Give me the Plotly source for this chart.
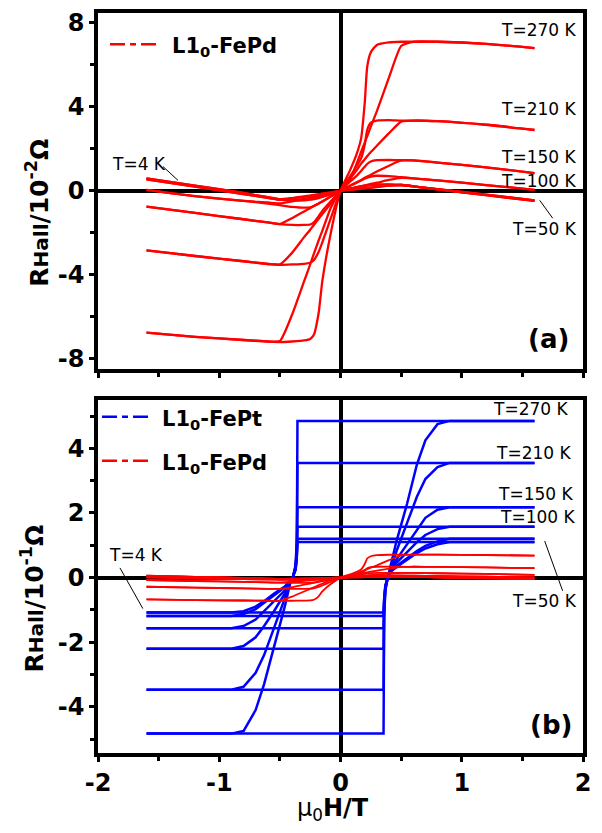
import plotly.graph_objects as go

# ---------------- data ----------------
# L1_0-FePd (panel a in 10^-2 Ohm; panel b shows the same curves in 10^-1 Ohm)
pd_field = [-1.6, -1.2, -0.8, -0.6, -0.5, -0.4, -0.3, -0.25, -0.22, -0.18, -0.15, -0.08, 0.0,
            0.08, 0.13, 0.17, 0.2, 0.22, 0.25, 0.3, 0.4, 0.5, 0.6, 0.8, 1.2, 1.6]

pd_270_ramp = [-6.75, -6.95, -7.1, -7.17, -7.15, -5.9, -4.3, -3.5, -3.0, -2.35, -1.9, -0.8, 0.0,
               0.55, 1.25, 1.86, 2.3, 2.6, 3.06, 3.8, 5.4, 6.9, 7.1, 7.1, 7.0, 6.8]
pd_270_s = [-6.75, -6.95, -7.1, -7.17, -7.2, -7.17, -7.12, -7.05, -6.85, -5.8, -4.3, -2.0, 0.0,
            1.0, 1.7, 2.5, 4.2, 5.9, 6.6, 6.95, 7.07, 7.1, 7.1, 7.1, 7.0, 6.8]
pd_210_ramp = [-2.83, -3.1, -3.35, -3.48, -3.5, -2.95, -2.2, -1.85, -1.62, -1.33, -1.1, -0.6, 0.0,
               0.6, 0.95, 1.3, 1.5, 1.65, 1.85, 2.15, 2.75, 3.3, 3.35, 3.32, 3.15, 2.9]
pd_210_s = [-2.83, -3.1, -3.35, -3.48, -3.52, -3.5, -3.47, -3.42, -3.3, -2.9, -2.45, -1.3, 0.0,
            0.7, 1.15, 1.55, 2.2, 2.9, 3.25, 3.35, 3.37, 3.35, 3.35, 3.32, 3.15, 2.9]
pd_150_ramp = [-0.75, -1.05, -1.35, -1.5, -1.58, -1.3, -0.98, -0.82, -0.72, -0.6, -0.5, -0.27, 0.0,
               0.25, 0.4, 0.52, 0.62, 0.68, 0.77, 0.92, 1.2, 1.45, 1.45, 1.35, 1.12, 0.85]
pd_150_s = [-0.75, -1.05, -1.35, -1.5, -1.58, -1.62, -1.62, -1.6, -1.5, -1.2, -0.95, -0.5, 0.0,
            0.45, 0.7, 0.95, 1.15, 1.28, 1.4, 1.46, 1.47, 1.46, 1.45, 1.35, 1.12, 0.85]
pd_100_ramp = [0.05, -0.25, -0.48, -0.55, -0.6, -0.5, -0.38, -0.32, -0.28, -0.23, -0.19, -0.1, 0.0,
               0.1, 0.17, 0.22, 0.26, 0.29, 0.33, 0.39, 0.52, 0.62, 0.6, 0.5, 0.28, 0.05]
pd_100_s = [0.05, -0.25, -0.48, -0.6, -0.68, -0.76, -0.8, -0.78, -0.72, -0.6, -0.5, -0.27, 0.0,
            0.25, 0.38, 0.5, 0.58, 0.63, 0.68, 0.72, 0.7, 0.65, 0.6, 0.5, 0.28, 0.05]
pd_50_ramp = [0.55, 0.2, -0.15, -0.33, -0.42, -0.36, -0.28, -0.24, -0.21, -0.17, -0.14, -0.08, 0.0,
              0.05, 0.08, 0.11, 0.13, 0.14, 0.16, 0.19, 0.25, 0.28, 0.22, 0.07, -0.2, -0.48]
pd_50_s = [0.55, 0.2, -0.15, -0.33, -0.42, -0.46, -0.45, -0.42, -0.39, -0.34, -0.29, -0.16, 0.0,
           0.12, 0.18, 0.22, 0.25, 0.27, 0.29, 0.3, 0.3, 0.28, 0.22, 0.07, -0.2, -0.48]
pd_4_ramp = [0.6, 0.25, -0.1, -0.3, -0.4, -0.34, -0.26, -0.22, -0.19, -0.16, -0.13, -0.07, 0.0,
             0.05, 0.08, 0.1, 0.12, 0.13, 0.15, 0.18, 0.25, 0.28, 0.22, 0.08, -0.18, -0.45]
pd_4_s = [0.6, 0.25, -0.1, -0.3, -0.4, -0.42, -0.4, -0.38, -0.35, -0.3, -0.26, -0.14, 0.0,
          0.11, 0.16, 0.2, 0.23, 0.25, 0.27, 0.3, 0.31, 0.28, 0.22, 0.08, -0.18, -0.45]

# L1_0-FePt (panel b, 10^-1 Ohm): descending and ascending field sweeps
pt_field_down = [1.6, 0.0, -0.355, -0.36, -0.37, -0.39, -0.41, -0.46, -0.55, -0.63, -0.7, -0.8, -0.9, -1.6]
pt_field_up = [-1.6, 0.0, 0.355, 0.36, 0.37, 0.39, 0.42, 0.46, 0.55, 0.63, 0.7, 0.8, 0.9, 1.6]

pt_270_down = [4.85, 4.85, 4.85, 1.2, 0.4, 0.05, -0.1, -0.9, -2.15, -3.3, -4.1, -4.75, -4.83, -4.83]
pt_270_up = [-4.83, -4.83, -4.83, -1.2, -0.4, 0.0, 0.45, 1.1, 2.3, 3.5, 4.25, 4.75, 4.85, 4.85]
pt_210_down = [3.55, 3.55, 3.55, 1.0, 0.35, 0.05, -0.1, -0.65, -1.6, -2.4, -2.95, -3.38, -3.47, -3.47]
pt_210_up = [-3.47, -3.47, -3.47, -1.0, -0.35, 0.0, 0.35, 0.8, 1.7, 2.5, 3.05, 3.42, 3.55, 3.55]
pt_150_down = [2.18, 2.18, 2.18, 0.9, 0.3, 0.05, -0.1, -0.5, -1.05, -1.5, -1.85, -2.12, -2.2, -2.2]
pt_150_up = [-2.2, -2.2, -2.2, -0.9, -0.3, 0.0, 0.3, 0.55, 1.05, 1.5, 1.85, 2.1, 2.18, 2.18]
pt_100_down = [1.57, 1.57, 1.57, 0.8, 0.3, 0.05, -0.1, -0.4, -0.75, -1.05, -1.3, -1.5, -1.57, -1.57]
pt_100_up = [-1.57, -1.57, -1.57, -0.8, -0.3, 0.0, 0.25, 0.45, 0.8, 1.1, 1.32, 1.5, 1.57, 1.57]
pt_50_down = [1.2, 1.2, 1.2, 0.7, 0.25, 0.05, -0.08, -0.3, -0.55, -0.8, -0.98, -1.13, -1.19, -1.19]
pt_50_up = [-1.19, -1.19, -1.19, -0.7, -0.25, 0.0, 0.2, 0.35, 0.6, 0.82, 0.98, 1.12, 1.2, 1.2]
pt_4_down = [1.1, 1.1, 1.1, 0.65, 0.25, 0.05, -0.08, -0.28, -0.5, -0.73, -0.9, -1.04, -1.08, -1.08]
pt_4_up = [-1.08, -1.08, -1.08, -0.65, -0.25, 0.0, 0.2, 0.32, 0.55, 0.76, 0.9, 1.03, 1.1, 1.1]

pd_curves = [pd_270_ramp, pd_270_s, pd_210_ramp, pd_210_s, pd_150_ramp, pd_150_s,
             pd_100_ramp, pd_100_s, pd_50_ramp, pd_50_s, pd_4_ramp, pd_4_s]
pt_down_curves = [pt_270_down, pt_210_down, pt_150_down, pt_100_down, pt_50_down, pt_4_down]
pt_up_curves = [pt_270_up, pt_210_up, pt_150_up, pt_100_up, pt_50_up, pt_4_up]

x_ticks = [-2, -1, 0, 1, 2]
x_ticktext = ["-2", "-1", "0", "1", "2"]
ya_ticks = [-8, -4, 0, 4, 8]
ya_ticktext = ["-8", "-4", "0", "4", "8"]
yb_ticks = [-4, -2, 0, 2, 4]
yb_ticktext = ["-4", "-2", "0", "2", "4"]

RED = "#ff0000"
BLUE = "#0000ff"
FONT = "DejaVu Sans, Liberation Sans, Arial, sans-serif"

fig = go.Figure()

# panel (a): FePd
for ys in pd_curves:
    fig.add_trace(go.Scatter(x=pd_field, y=ys, mode="lines", xaxis="x", yaxis="y",
                             line=dict(color=RED, width=2.3, shape="spline", smoothing=0.5),
                             showlegend=False, hoverinfo="skip"))

# panel (b): FePt then FePd (scaled to 10^-1 Ohm)
for yd, yu in zip(pt_down_curves, pt_up_curves):
    fig.add_trace(go.Scatter(x=pt_field_down, y=yd, mode="lines", xaxis="x2", yaxis="y2",
                             line=dict(color=BLUE, width=2.5), showlegend=False, hoverinfo="skip"))
    fig.add_trace(go.Scatter(x=pt_field_up, y=yu, mode="lines", xaxis="x2", yaxis="y2",
                             line=dict(color=BLUE, width=2.5), showlegend=False, hoverinfo="skip"))
for ys in pd_curves:
    fig.add_trace(go.Scatter(x=pd_field, y=[v / 10 for v in ys], mode="lines", xaxis="x2", yaxis="y2",
                             line=dict(color=RED, width=1.8, shape="spline", smoothing=0.5),
                             showlegend=False, hoverinfo="skip"))

axis_common = dict(showline=True, linewidth=3.5, linecolor="black", mirror=True,
                   ticks="outside", ticklen=5, tickwidth=3, tickcolor="black",
                   showgrid=False, zeroline=True, zerolinewidth=3.5, zerolinecolor="black",
                   tickfont=dict(family=FONT, size=24, color="black", weight="bold"))
minor_common = dict(ticks="outside", ticklen=4, tickwidth=3, tickcolor="black")

fig.update_layout(
    width=594, height=825,
    margin=dict(l=90, r=19, t=1, b=80),
    paper_bgcolor="white", plot_bgcolor="white",
    showlegend=False,
    xaxis=dict(domain=[0, 1], anchor="y", range=[-2, 2], tickvals=x_ticks, showticklabels=False,
               minor=dict(tickvals=[-1.5, -0.5, 0.5, 1.5], **minor_common), **axis_common),
    yaxis=dict(domain=[0.5192, 1], anchor="x", range=[-8.47, 8.47], tickvals=ya_ticks,
               ticktext=ya_ticktext,
               minor=dict(tickvals=[-6, -2, 2, 6], **minor_common), **axis_common),
    xaxis2=dict(domain=[0, 1], anchor="y2", range=[-2, 2], tickvals=x_ticks, ticktext=x_ticktext,
                minor=dict(tickvals=[-1.5, -0.5, 0.5, 1.5], **minor_common), **axis_common),
    yaxis2=dict(domain=[0, 0.4767], anchor="x2", range=[-5.43, 5.49], tickvals=yb_ticks,
                ticktext=yb_ticktext,
                minor=dict(tickvals=[-5, -3, -1, 1, 3, 5], **minor_common), **axis_common),
)

ann = []
tl = dict(family=FONT, size=17, color="black")
# temperature labels panel (a)
for txt, xx, yy, anc in [("T=270 K", 1.956, 7.64, "right"), ("T=210 K", 1.956, 3.9, "right"),
                         ("T=150 K", 1.956, 1.63, "right"), ("T=100 K", 1.956, 0.45, "right"),
                         ("T=50 K", 1.97, -1.82, "right"), ("T=4 K", -1.9, 1.3, "left")]:
    ann.append(dict(text=txt, x=xx, y=yy, xref="x", yref="y", xanchor=anc, yanchor="middle",
                    showarrow=False, font=tl))
# temperature labels panel (b)
for txt, xx, yy, anc in [("T=270 K", 1.89, 5.22, "right"), ("T=210 K", 1.915, 3.87, "right"),
                         ("T=150 K", 1.93, 2.6, "right"), ("T=100 K", 1.95, 1.87, "right"),
                         ("T=50 K", 1.97, -0.72, "right"), ("T=4 K", -1.925, 0.7, "left")]:
    ann.append(dict(text=txt, x=xx, y=yy, xref="x2", yref="y2", xanchor=anc, yanchor="middle",
                    showarrow=False, font=tl))

# panel letters
ann.append(dict(text="<b>(a)</b>", x=1.716, y=-7.07, xref="x", yref="y", showarrow=False,
                xanchor="center", yanchor="middle", font=dict(family=FONT, size=26, color="black")))
ann.append(dict(text="<b>(b)</b>", x=1.74, y=-4.56, xref="x2", yref="y2", showarrow=False,
                xanchor="center", yanchor="middle", font=dict(family=FONT, size=26, color="black")))

# legends
lg = dict(family=FONT, size=21, color="black")
ann.append(dict(text="<b>L1<sub>0</sub>-FePd</b>", x=-1.407, y=6.98, xref="x", yref="y",
                xanchor="left", yanchor="middle", showarrow=False, font=lg, yshift=-3))
ann.append(dict(text="<b>L1<sub>0</sub>-FePt</b>", x=-1.487, y=4.98, xref="x2", yref="y2",
                xanchor="left", yanchor="middle", showarrow=False, font=lg, yshift=-3))
ann.append(dict(text="<b>L1<sub>0</sub>-FePd</b>", x=-1.487, y=3.62, xref="x2", yref="y2",
                xanchor="left", yanchor="middle", showarrow=False, font=lg, yshift=-3))

# axis titles (paper coordinates)
ann.append(dict(text="<b>R<span style='font-size:20px'>Hall</span>/10<sup>-2</sup>Ω</b>",
                x=-0.1237, y=0.7302, xref="paper", yref="paper", textangle=-90, showarrow=False,
                xanchor="center", yanchor="middle",
                font=dict(family=FONT, size=25, color="black")))
ann.append(dict(text="<b>R<span style='font-size:20px'>Hall</span>/10<sup>-1</sup>Ω</b>",
                x=-0.134, y=0.2087, xref="paper", yref="paper", textangle=-90, showarrow=False,
                xanchor="center", yanchor="middle",
                font=dict(family=FONT, size=25, color="black")))
ann.append(dict(text="μ<sub>0</sub><b>H/T</b>", x=0.4845, y=-0.077, xref="paper", yref="paper",
                xanchor="center", yanchor="middle",
                showarrow=False, font=dict(family=FONT, size=24, color="black")))

shapes = []
# pointer lines
for x0, y0, x1, y1, xr, yr in [(1.643, -0.45, 1.75, -1.3, "x", "y"),
                                (-1.464, 1.16, -1.34, 0.5, "x", "y"),
                                (1.684, 1.13, 1.832, -0.41, "x2", "y2"),
                                (-1.819, 0.3, -1.63, -0.96, "x2", "y2")]:
    shapes.append(dict(type="line", x0=x0, y0=y0, x1=x1, y1=y1, xref=xr, yref=yr,
                       line=dict(color="black", width=1)))
# legend samples
for x0, x1, yy, col, xr, yr in [(-1.901, -1.514, 6.98, RED, "x", "y"),
                                 (-1.967, -1.571, 4.98, BLUE, "x2", "y2"),
                                 (-1.967, -1.571, 3.62, RED, "x2", "y2")]:
    shapes.append(dict(type="line", x0=x0, y0=yy, x1=x1, y1=yy, xref=xr, yref=yr,
                       line=dict(color=col, width=2.5, dash="15px,5px,6px,5px")))

fig.update_layout(annotations=ann, shapes=shapes)
fig.write_html("out.html")
